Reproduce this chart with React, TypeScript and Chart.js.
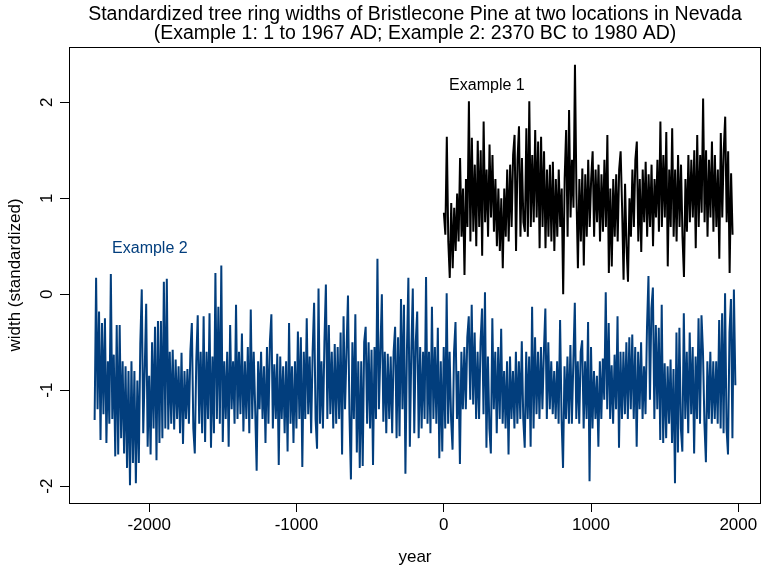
import React, { useEffect, useRef } from "react";
import { Chart, registerables } from "chart.js";

Chart.register(...registerables);

const ex1Start = 1;
const ex1Step = 10;
const ex1Values = [
  0.85, 0.62, 1.64, 0.55, 0.17, 0.95, 0.27, 0.9, 0.45, 1.05,
  0.55, 1.42, 0.6, 1.1, 0.2, 1.2, 0.7, 2.01, 0.55, 1.63,
  0.65, 1.35, 0.5, 1.6, 0.7, 1.5, 0.4, 1.8, 0.75, 1.3,
  0.6, 1.56, 0.8, 1.45, 0.65, 1.2, 0.5, 1.1, 0.45, 1.0,
  0.27, 1.1, 0.6, 1.3, 0.55, 1.35, 0.7, 1.45, 1.66, 0.45,
  1.4, 1.75, 0.6, 1.42, 0.75, 0.65, 1.73, 0.6, 2.01, 0.7,
  1.45, 0.75, 1.71, 0.8, 1.59, 0.48, 1.64, 0.7, 1.49, 0.48,
  1.3, 0.6, 1.35, 0.55, 1.38, 0.45, 1.2, 0.6, 1.3, 0.7,
  1.1, 0.0, 1.2, 1.71, 0.6, 1.92, 0.8, 1.4, 0.9, 2.39,
  1.05, 0.27, 1.2, 0.55, 1.31, 0.3, 1.25, 0.6, 1.4, 0.7,
  1.2, 1.49, 0.6, 1.3, 0.75, 1.35, 0.55, 1.25, 0.65, 1.4,
  0.7, 1.66, 0.22, 1.1, 0.29, 1.2, 0.6, 1.25, 0.55, 1.3,
  1.49, 0.9, 0.15, 1.15, 0.5, 0.13, 1.0, 0.6, 1.3, 0.7,
  1.4, 1.59, 0.55, 1.2, 0.44, 1.3, 0.75, 1.38, 0.6, 1.25,
  0.7, 1.35, 0.5, 1.2, 0.8, 1.4, 0.65, 1.8, 0.7, 1.45,
  0.8, 1.69, 0.29, 1.3, 0.7, 1.73, 0.6, 1.3, 0.55, 1.45,
  0.7, 1.35, 0.6, 0.18, 1.2, 0.65, 1.45, 0.75, 1.4, 0.8,
  1.5, 0.48, 1.66, 0.7, 1.45, 0.85, 2.04, 0.75, 1.5, 0.6,
  1.4, 0.8, 1.59, 0.65, 1.45, 0.7, 1.3, 0.37, 1.68, 0.8,
  1.5, 1.85, 0.75, 1.49, 0.22, 1.26, 0.62,
];

const ex2Start = -2370;
const ex2Step = 10;
const ex2Values = [
  -1.31, 0.17, -1.2, -0.18, -1.52, -0.3, -1.25, -0.25, -1.55, -0.7,
  -1.35, 0.21, -1.3, -0.63, -1.69, -0.32, -1.67, -0.32, -1.5, -0.7,
  -1.66, -0.75, -1.81, -0.8, -1.99, -0.7, -1.76, -0.8, -1.97, -0.9,
  -1.76, -0.52, 0.05, -1.45, -0.8, -0.1, -1.59, -0.85, -1.67, -0.5,
  -1.4, -0.34, -1.73, -0.28, -1.55, -0.28, -1.5, 0.13, -1.4, 0.16,
  -1.41, -0.6, -1.35, -0.58, -1.41, -0.68, -1.3, -0.75, -1.45, -0.61,
  -1.56, -0.8, -1.3, -0.78, -1.35, -0.6, -0.3, -1.4, -1.66, -0.7,
  -0.22, -1.35, -0.6, -1.45, -0.23, -1.54, -0.6, -1.3, -0.2, -1.6,
  -0.65, -1.45, 0.22, -1.3, -0.13, -1.35, 0.3, -1.54, -0.7, -1.3,
  -0.6, -1.59, -0.32, -1.2, -0.7, -1.35, -0.11, -1.3, -0.6, -1.25,
  -0.41, -1.43, -0.7, -1.3, -0.55, -1.45, -0.16, -1.3, -0.6, -1.2,
  -1.84, -0.7, -1.2, -0.6, -1.3, -0.75, -1.55, -0.55, -1.35, -0.49,
  -0.21, -1.4, -0.73, -1.3, -0.62, -1.78, -0.65, -1.3, -0.75, -1.45,
  -0.7, -1.64, -0.3, -1.35, -0.75, -1.55, -0.7, -1.4, -0.39, -1.3,
  -0.45, -1.8, -0.6, -1.3, -0.25, -1.25, -0.65, -1.45, -0.6, -0.09,
  -1.3, -1.61, 0.06, -1.35, -0.7, -1.4, -0.5, 0.1, -1.3, -0.32,
  -1.25, -0.6, -1.4, -0.52, -1.35, -0.55, -1.3, -0.4, -1.67, -0.23,
  -1.2, -0.6, -0.015, -1.25, -1.93, -0.5, -1.3, -0.21, -1.65, -0.7,
  -1.81, -0.7, -1.79, -0.5, -0.34, -1.35, -0.5, -1.4, -0.58, -1.78,
  -0.55, -1.3, 0.37, -1.2, -0.6, 0.0, -1.33, -0.6, -1.45, -0.62,
  -1.3, -0.65, -1.45, -0.6, -0.34, -1.5, -0.45, -1.48, -0.05, -1.2,
  -0.11, -1.87, -0.6, 0.17, -1.59, -0.6, 0.06, -1.45, -0.5, -0.18,
  -1.5, -0.55, -1.4, -0.6, -1.3, 0.18, -1.35, -0.6, -1.45, -0.13,
  -1.3, -0.55, -1.35, -0.35, -1.71, -0.7, -1.64, -0.55, -1.4, 0.01,
  -1.35, -0.6, -1.3, -1.62, -0.6, -0.29, -1.3, -0.8, -1.77, -0.6,
  -1.2, -0.55, -1.2, -0.45, -0.23, -1.1, -0.11, -1.15, -0.4, -1.3,
  -0.6, -1.3, -0.5, -0.15, -1.25, 0.02, -1.6, -0.65, -1.4, -1.66,
  -0.25, -1.2, -0.6, -1.45, -0.55, -1.3, -0.36, -1.35, -0.8, -1.4,
  -0.7, -1.67, -0.65, -1.3, -0.8, -1.4, -0.6, -1.35, -0.7, -1.3,
  -0.49, -1.3, -1.6, -0.6, -1.3, -0.65, -1.59, -0.13, -1.4, -0.45,
  -1.25, -0.6, -1.3, -0.55, -1.2, -0.6, -0.15, -1.3, -0.5, -1.2,
  -0.7, -1.25, -0.8, -1.3, -0.7, -1.35, -0.27, -1.3, -1.81, -0.75,
  -1.3, -0.65, -1.35, -0.53, -1.35, -0.7, -0.09, -1.3, -0.7, -1.35,
  -0.6, -0.48, -1.4, -0.7, -1.3, -0.29, -1.95, -0.55, -1.4, -0.8,
  -1.3, -0.85, -1.59, -0.7, -1.3, -0.67, -1.1, 0.02, -1.2, -0.3,
  -1.3, -0.74, -1.35, -0.63, -1.2, -0.23, -1.6, -0.6, -1.3, -0.6,
  -1.25, -0.5, -1.3, -0.45, -1.2, -0.42, -1.3, -0.55, -1.59, -0.6,
  -1.2, -0.5, -1.3, -0.75, -1.25, -0.35, 0.19, -1.1, -0.15, 0.07,
  -1.3, -0.32, -1.2, -0.35, -1.52, -0.11, -1.55, -0.72, -1.5, -0.75,
  -1.35, -0.68, -1.55, -0.78, -1.97, -0.4, -1.65, -0.35, -1.4, -1.64,
  -0.2, -1.3, -0.6, -1.45, -0.4, -1.25, -0.55, -1.66, -0.65, -1.3,
  -0.25, -1.35, -0.22, -0.6, -1.35, -1.75, -0.7, -1.3, -0.6, -1.35,
  -0.7, -1.3, -0.7, -1.35, -0.27, -1.4, -0.2, -1.45, 0.01, -1.4,
  -1.67, -0.4, -0.05, -1.5, 0.05, -0.95,
];

const xTicks = [-2000, -1000, 0, 1000, 2000];
const yTicks = [-2, -1, 0, 1, 2];
const xMin = -2544;
const xMax = 2154;
const yMin = -2.176;
const yMax = 2.576;

const titleLines = [
  "Standardized tree ring widths of Bristlecone Pine at two locations in Nevada",
  "(Example 1: 1 to 1967 AD; Example 2: 2370 BC to 1980 AD)",
];
const xTitle = "year";
const yTitle = "width (standardized)";
const seriesNames = ["Example 1", "Example 2"];
const labelYears = [293, -1995];
const labelValues = [2.17, 0.48];

const BLUE = "#023e7d";
const FONT = "'Liberation Sans', Arial, Helvetica, sans-serif";

function toPoints(start: number, step: number, values: number[]) {
  return values.map((v, i) => ({ x: start + i * step, y: v }));
}

const textPlugin = {
  id: "rtexts",
  afterDraw(chart: any) {
    const ctx = chart.ctx as CanvasRenderingContext2D;
    const { left, right, top, bottom } = chart.chartArea;
    const xs = chart.scales.x;
    const ys = chart.scales.y;
    ctx.save();
    // box
    ctx.strokeStyle = "#000";
    ctx.lineWidth = 1;
    ctx.strokeRect(Math.round(left) + 0.5, Math.round(top) + 0.5, Math.round(right - left) - 1, Math.round(bottom - top));
    ctx.fillStyle = "#000";
    ctx.textAlign = "center";
    ctx.textBaseline = "middle";
    const cx = (left + right) / 2;
    // title
    ctx.font = `19.5px ${FONT}`;
    ctx.fillText(titleLines[0], cx, 15);
    ctx.fillText(titleLines[1], cx, 34);
    // axis titles
    ctx.font = `17px ${FONT}`;
    ctx.fillText(xTitle, cx, 557);
    ctx.save();
    ctx.translate(15, (top + bottom) / 2);
    ctx.rotate(-Math.PI / 2);
    ctx.fillText(yTitle, 0, 0);
    ctx.restore();
    // y tick labels (rotated)
    for (const v of yTicks) {
      const py = ys.getPixelForValue(v);
      ctx.save();
      ctx.translate(47, py);
      ctx.rotate(-Math.PI / 2);
      ctx.fillText(String(v), 0, 0);
      ctx.restore();
    }
    // series labels
    ctx.font = `16px ${FONT}`;
    ctx.fillStyle = "#000";
    ctx.fillText(seriesNames[0], xs.getPixelForValue(labelYears[0]), ys.getPixelForValue(labelValues[0]));
    ctx.fillStyle = BLUE;
    ctx.fillText(seriesNames[1], xs.getPixelForValue(labelYears[1]), ys.getPixelForValue(labelValues[1]));
    ctx.restore();
  },
};

export default function App() {
  const ref = useRef<HTMLCanvasElement | null>(null);
  useEffect(() => {
    document.body.style.margin = "0";
    const canvas = ref.current!;
    const chart = new Chart(canvas, {
      type: "line",
      data: {
        datasets: [
          {
            label: seriesNames[1],
            data: toPoints(ex2Start, ex2Step, ex2Values),
            borderColor: BLUE,
            borderWidth: 2,
            pointRadius: 0,
            tension: 0,
          },
          {
            label: seriesNames[0],
            data: toPoints(ex1Start, ex1Step, ex1Values),
            borderColor: "#000",
            borderWidth: 2,
            pointRadius: 0,
            tension: 0,
          },
        ],
      },
      options: {
        animation: false,
        responsive: false,
        devicePixelRatio: 1,
        layout: { padding: { top: 47, right: 0, left: 0, bottom: 0 } },
        plugins: { legend: { display: false }, tooltip: { enabled: false }, title: { display: false } },
        scales: {
          x: {
            type: "linear",
            min: xMin,
            max: xMax,
            afterBuildTicks: (axis: any) => {
              axis.ticks = xTicks.map((v) => ({ value: v }));
            },
            afterFit: (s: any) => {
              s.height = 67;
            },
            border: { display: false },
            grid: { display: true, drawOnChartArea: false, drawTicks: true, tickLength: 9, color: "#000", lineWidth: 1 },
            ticks: {
              color: "#000",
              font: { family: FONT, size: 17 },
              padding: 3,
              maxRotation: 0,
              autoSkip: false,
              callback: (v: any) => String(v),
            },
          },
          y: {
            type: "linear",
            min: yMin,
            max: yMax,
            afterBuildTicks: (axis: any) => {
              axis.ticks = yTicks.map((v) => ({ value: v }));
            },
            afterFit: (s: any) => {
              s.width = 69;
            },
            border: { display: false },
            grid: { display: true, drawOnChartArea: false, drawTicks: true, tickLength: 9, color: "#000", lineWidth: 1 },
            ticks: { display: false },
          },
        },
      },
      plugins: [textPlugin],
    });
    return () => chart.destroy();
  }, []);
  return (
    <div style={{ position: "absolute", left: 0, top: 0, width: 761, height: 570 }}>
      <canvas ref={ref} width={761} height={570} />
    </div>
  );
}
